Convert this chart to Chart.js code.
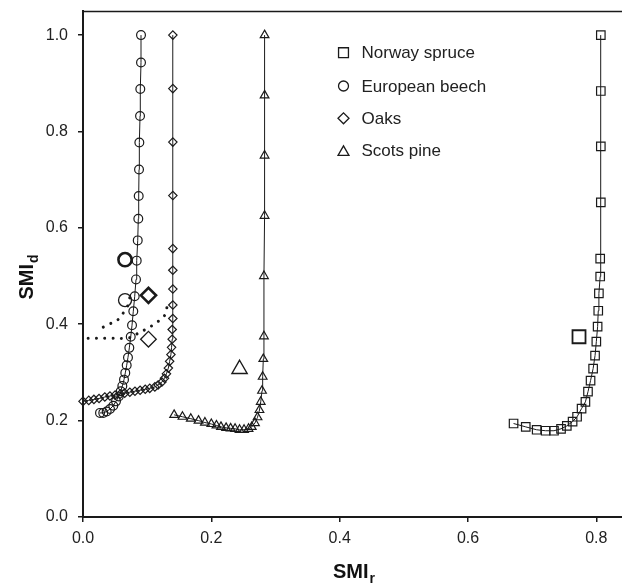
<!DOCTYPE html>
<html><head><meta charset="utf-8">
<script src="https://cdn.jsdelivr.net/npm/chart.js@4.4.1/dist/chart.umd.min.js"></script>
<style>html,body{margin:0;padding:0;background:#fff;}#wrap{position:relative;width:622px;height:583px;}</style>
</head><body><div id="wrap"><canvas id="c" width="622" height="583"></canvas></div>
<script>
// ---------- data ----------
const xTicks = [0, 0.2, 0.4, 0.6, 0.8];
const yTicks = [0, 0.2, 0.4, 0.6, 0.8, 1.0];
const seriesNames = ['Norway spruce', 'European beech', 'Oaks', 'Scots pine'];

const spruceX = [0.671,0.690,0.707,0.721,0.734,0.745,0.754,0.763,0.770,0.777,0.783,0.787,0.791,0.795,0.798,0.800,0.802,0.803,0.804,0.806,0.806,0.807,0.807,0.807,0.807];
const spruceY = [0.194,0.187,0.181,0.179,0.179,0.183,0.189,0.198,0.208,0.225,0.239,0.260,0.283,0.308,0.335,0.364,0.395,0.428,0.464,0.499,0.536,0.653,0.769,0.884,1.000];

const beechX = [0.0265,0.0316,0.0369,0.0421,0.0472,0.0514,0.0557,0.0588,0.0613,0.0639,0.0659,0.0681,0.0701,0.0722,0.0744,0.0764,0.0784,0.0806,0.0826,0.0837,0.0853,0.0862,0.0868,0.0873,0.0878,0.0889,0.0893,0.0904,0.0904];
const beechY = [0.216,0.216,0.219,0.224,0.231,0.240,0.250,0.261,0.272,0.285,0.299,0.315,0.331,0.351,0.374,0.398,0.427,0.458,0.493,0.532,0.574,0.619,0.666,0.721,0.777,0.832,0.888,0.943,1.000];

const oakX = [0.000,0.009,0.017,0.025,0.034,0.042,0.050,0.058,0.065,0.073,0.081,0.089,0.097,0.104,0.112,0.117,0.123,0.127,0.130,0.133,0.135,0.137,0.138,0.139,0.139,0.140,0.140,0.140,0.140,0.140,0.140,0.140,0.140,0.140];
const oakY = [0.240,0.242,0.244,0.246,0.249,0.251,0.253,0.255,0.257,0.259,0.261,0.263,0.265,0.267,0.270,0.274,0.280,0.288,0.297,0.309,0.323,0.337,0.352,0.369,0.389,0.412,0.440,0.473,0.512,0.557,0.667,0.778,0.889,1.000];

const pineX = [0.142,0.155,0.168,0.180,0.190,0.200,0.208,0.215,0.223,0.230,0.237,0.244,0.251,0.258,0.263,0.268,0.272,0.275,0.277,0.279,0.280,0.281,0.282,0.282,0.283,0.283,0.283,0.283];
const pineY = [0.212,0.208,0.204,0.200,0.196,0.193,0.190,0.187,0.185,0.184,0.183,0.181,0.181,0.183,0.187,0.195,0.207,0.222,0.239,0.262,0.291,0.328,0.375,0.500,0.625,0.750,0.875,1.000];

// observed (large) markers
const spruceObsX = [0.773], spruceObsY = [0.374];
const beechObsX = [0.0655], beechObsY = [0.450];
const beechObsBoldX = [0.0655], beechObsBoldY = [0.534];
const oakObsX = [0.102], oakObsY = [0.369];
const oakObsBoldX = [0.102], oakObsBoldY = [0.460];
const pineObsX = [0.244], pineObsY = [0.307];

// dotted curves
const dotAX = [0.008,0.040,0.072,0.084,0.097,0.110,0.119,0.128,0.131,0.134];
const dotAY = [0.371,0.371,0.372,0.380,0.389,0.399,0.408,0.420,0.436,0.450];
const dotBX = [0.0316,0.0421,0.055,0.0628,0.069,0.0722,0.0748];
const dotBY = [0.394,0.401,0.410,0.4235,0.436,0.451,0.467];

// ---------- helpers ----------
const pts = (xs, ys) => xs.map((x, i) => ({x, y: ys[i]}));
const INK = '#1a1a1a';
const NONE = 'rgba(0,0,0,0)';
const FONT = '"Liberation Sans", Arial, Helvetica, sans-serif';

function curve(data, style, r, bw) {
  return {data, showLine: true, borderColor: INK, borderWidth: 1, tension: 0,
    pointStyle: style, pointRadius: r, pointBorderWidth: bw, pointBorderColor: INK,
    pointBackgroundColor: NONE, pointHoverRadius: r, clip: false};
}
function marker(data, style, r, bw) {
  return {data, showLine: false, pointStyle: style, pointRadius: r, pointBorderWidth: bw,
    pointBorderColor: INK, pointBackgroundColor: NONE, pointHoverRadius: r, clip: false};
}
function dotted(data) {
  return {data, showLine: true, borderColor: INK, borderWidth: 3, borderDash: [0.01, 8.3],
    borderCapStyle: 'round', tension: 0.4, pointRadius: 0, clip: false};
}

const legendStyles = [['rect', 7], ['circle', 5], ['rectRot', 5.5], ['triangle', 6.3]];

const deco = {
  id: 'deco',
  afterDraw(chart) {
    const ctx = chart.ctx, a = chart.chartArea;
    ctx.save();
    // top frame line
    ctx.strokeStyle = INK; ctx.lineWidth = 1.3;
    ctx.beginPath(); ctx.moveTo(a.left, a.top + 0.5); ctx.lineTo(a.right, a.top + 0.5); ctx.stroke();
    // legend
    const rows = [52.7, 86, 118.3, 150.7];
    ctx.font = '17px ' + FONT; ctx.fillStyle = '#222'; ctx.textBaseline = 'middle'; ctx.textAlign = 'left';
    seriesNames.forEach((name, i) => {
      ctx.save();
      ctx.strokeStyle = INK; ctx.fillStyle = NONE; ctx.lineWidth = 1.3;
      const [st, r] = legendStyles[i];
      Chart.helpers.drawPoint(ctx, {pointStyle: st, radius: r, borderWidth: 1.3, rotation: 0}, 343.5, rows[i] + (st === 'triangle' ? 1.5 : 0));
      ctx.restore();
      ctx.fillText(name, 361.5, rows[i] + 1);
    });
    // axis titles with subscripts
    function sub(main, s, cx, cy) {
      ctx.font = 'bold 20px ' + FONT;
      const w1 = ctx.measureText(main).width;
      ctx.font = 'bold 14px ' + FONT;
      const w2 = ctx.measureText(s).width;
      const x0 = cx - (w1 + w2 + 1) / 2;
      ctx.textAlign = 'left'; ctx.textBaseline = 'alphabetic'; ctx.fillStyle = '#111';
      ctx.font = 'bold 20px ' + FONT; ctx.fillText(main, x0, cy + 7);
      ctx.font = 'bold 14px ' + FONT; ctx.fillText(s, x0 + w1 + 1, cy + 12);
    }
    sub('SMI', 'r', 354, 571);
    ctx.save(); ctx.translate(26, 277); ctx.rotate(-Math.PI / 2);
    sub('SMI', 'd', 0, 0);
    ctx.restore();
    ctx.restore();
  }
};

new Chart(document.getElementById('c'), {
  type: 'scatter',
  data: {datasets: [
    dotted(pts(dotAX, dotAY)),
    dotted(pts(dotBX, dotBY)),
    curve(pts(spruceX, spruceY), 'rect', 6, 1.2),
    curve(pts(beechX, beechY), 'circle', 4.4, 1.2),
    curve(pts(oakX, oakY), 'rectRot', 4.2, 1.2),
    curve(pts(pineX, pineY), 'triangle', 5, 1.2),
    marker(pts(spruceObsX, spruceObsY), 'rect', 9.2, 1.8),
    marker(pts(beechObsX, beechObsY), 'circle', 6.5, 1.3),
    marker(pts(beechObsBoldX, beechObsBoldY), 'circle', 6.6, 2.6),
    marker(pts(oakObsX, oakObsY), 'rectRot', 7.8, 1.3),
    marker(pts(oakObsBoldX, oakObsBoldY), 'rectRot', 7.6, 2.6),
    marker(pts(pineObsX, pineObsY), 'triangle', 8.8, 1.4)
  ]},
  options: {
    responsive: false, animation: false, devicePixelRatio: 1,
    layout: {autoPadding: false, padding: {top: 11, right: 0, left: 0, bottom: 0}},
    plugins: {legend: {display: false}, tooltip: {enabled: false}},
    events: [],
    scales: {
      x: {
        type: 'linear', min: 0, max: 0.84,
        afterFit: s => { s.height = 66; s.paddingLeft = 0; s.paddingRight = 0; },
        afterBuildTicks: s => { s.ticks = xTicks.map(v => ({value: v})); },
        ticks: {callback: v => v.toFixed(1), color: '#222', font: {family: FONT, size: 16}, padding: 7, maxRotation: 0},
        grid: {display: true, drawOnChartArea: false, drawTicks: true, tickLength: 5, color: INK, lineWidth: 1.5},
        border: {display: true, color: INK, width: 2},
        title: {display: false}
      },
      y: {
        type: 'linear', min: 0, max: 1.05,
        afterFit: s => { s.width = 83; s.paddingTop = 0; s.paddingBottom = 0; },
        afterBuildTicks: s => { s.ticks = yTicks.map(v => ({value: v})); },
        ticks: {callback: v => v.toFixed(1), color: '#222', font: {family: FONT, size: 16}, padding: 10},
        grid: {display: true, drawOnChartArea: false, drawTicks: true, tickLength: 5, color: INK, lineWidth: 1.5},
        border: {display: true, color: INK, width: 2},
        title: {display: false}
      }
    }
  },
  plugins: [deco]
});
</script></body></html>
